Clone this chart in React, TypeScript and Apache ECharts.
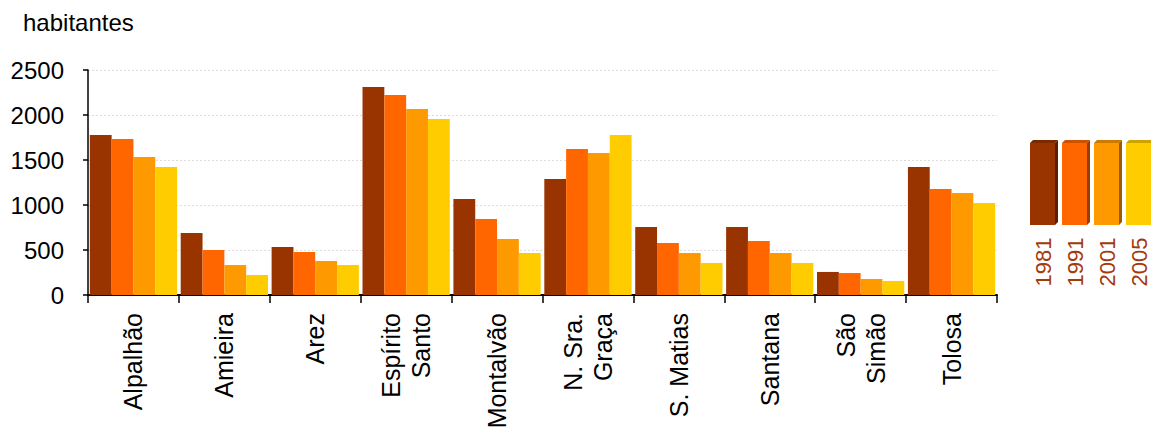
import React, { useEffect, useRef } from "react";
import * as echarts from "echarts";

// Freguesias (parishes) and resident population per census year
const categories = [
  "Alpalhão",
  "Amieira",
  "Arez",
  "Espírito\nSanto",
  "Montalvão",
  "N. Sra.\nGraça",
  "S. Matias",
  "Santana",
  "São\nSimão",
  "Tolosa",
];
const years = ["1981", "1991", "2001", "2005"];
const pop1981 = [1778, 689, 533, 2311, 1067, 1289, 756, 756, 256, 1422];
const pop1991 = [1733, 500, 478, 2222, 844, 1622, 578, 600, 244, 1178];
const pop2001 = [1533, 333, 378, 2067, 622, 1578, 467, 467, 178, 1133];
const pop2005 = [1422, 222, 333, 1956, 467, 1778, 356, 356, 156, 1022];
const yTicks = { min: 0, max: 2500, interval: 500 };

const seriesValues = [pop1981, pop1991, pop2001, pop2005];
const colors = ["#993300", "#FF6600", "#FF9900", "#FFCC00"];
const topShades = ["#7a2900", "#cc5200", "#cc7a00", "#cca300"];
const sideShades = ["#5c1f00", "#993d00", "#995c00", "#997a00"];

const FONT = "'Liberation Sans', Arial, sans-serif";

function buildLegend() {
  const els: any[] = [];
  const x0 = 1030;
  const step = 32;
  const w = 25;
  const top = 143;
  const h = 82;
  const d = 3;
  years.forEach((yr, i) => {
    const x = x0 + i * step;
    els.push({
      type: "polygon",
      shape: {
        points: [
          [x, top],
          [x + d, top - d],
          [x + w + d, top - d],
          [x + w, top],
        ],
      },
      style: { fill: topShades[i] },
    });
    els.push({
      type: "polygon",
      shape: {
        points: [
          [x + w, top],
          [x + w + d, top - d],
          [x + w + d, top + h - d],
          [x + w, top + h],
        ],
      },
      style: { fill: sideShades[i] },
    });
    els.push({
      type: "rect",
      shape: { x, y: top, width: w, height: h },
      style: { fill: colors[i] },
    });
    els.push({
      type: "text",
      x: x + w / 2 + 1,
      y: 262,
      rotation: Math.PI / 2,
      style: {
        text: yr,
        fill: "#a53a0a",
        font: `22px ${FONT}`,
        align: "center",
        verticalAlign: "middle",
      },
    });
  });
  return els;
}

export default function App() {
  const ref = useRef<HTMLDivElement>(null);

  useEffect(() => {
    if (!ref.current) return;
    const chart = echarts.init(ref.current, null, { renderer: "svg" });
    chart.setOption({
      animation: false,
      backgroundColor: "#ffffff",
      textStyle: { fontFamily: FONT },
      grid: {
        left: 88,
        right: 154,
        top: 70,
        bottom: 132,
        containLabel: false,
        outerBoundsMode: "none",
      },
      xAxis: {
        type: "category",
        data: categories,
        axisLine: { lineStyle: { color: "#000", width: 2 } },
        axisTick: {
          show: true,
          length: 8,
          alignWithLabel: false,
          lineStyle: { color: "#000", width: 1.5 },
        },
        axisLabel: {
          interval: 0,
          rotate: 90,
          margin: 18,
          fontSize: 25,
          lineHeight: 30,
          color: "#000",
          fontFamily: FONT,
        },
      },
      yAxis: {
        type: "value",
        min: yTicks.min,
        max: yTicks.max,
        interval: yTicks.interval,
        axisLine: { show: true, lineStyle: { color: "#000", width: 1.5 } },
        axisTick: { show: true, length: 5, lineStyle: { color: "#000", width: 1.5 } },
        axisLabel: {
          margin: 24,
          fontSize: 24,
          color: "#000",
          fontFamily: FONT,
          formatter: (v: number) => String(v),
        },
        splitLine: {
          show: true,
          lineStyle: { color: "#dcdcdc", type: [2, 2], width: 1 },
        },
      },
      series: years.map((yr, i) => ({
        name: yr,
        type: "bar",
        data: seriesValues[i],
        barGap: "0%",
        barCategoryGap: "4%",
        itemStyle: { color: colors[i] },
      })),
      graphic: [
        {
          type: "text",
          left: 23,
          top: 10,
          style: { text: "habitantes", fill: "#000", font: `24px ${FONT}` },
        },
        ...buildLegend(),
      ],
    });
    return () => chart.dispose();
  }, []);

  return (
    <div
      ref={ref}
      style={{ position: "fixed", left: 0, top: 0, width: 1151, height: 427 }}
    />
  );
}
